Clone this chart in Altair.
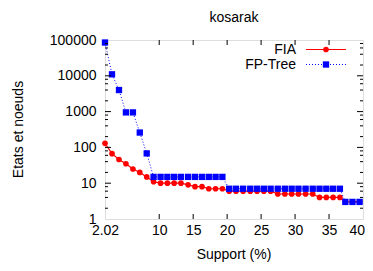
import altair as alt
import pandas as pd

support = [2.02, 3.05, 4.08, 5.1, 6.13, 7.14, 8.16, 9.17, 10.2, 11.2, 12.2, 13.2, 14.25,
           15.27, 16.3, 17.3, 18.3, 19.3, 20.3, 21.3, 22.35, 23.4, 24.4, 25.4, 26.4,
           27.45, 28.5, 29.5, 30.5, 31.55, 32.6, 33.6, 34.6, 35.6, 36.6, 37.4, 38.45, 39.5]
fia = [130, 67, 46, 35, 25, 20, 15, 11, 10, 10, 10, 10, 9, 8, 8, 7, 7, 7, 6, 6, 6, 6,
       6, 6, 6, 5, 5, 5, 5, 5, 5, 4, 4, 4, 4, 3, 3, 3]
fptree = [85000, 11000, 4000, 950, 950, 260, 68, 15, 15, 15, 15, 15, 15, 15, 15, 15,
          15, 15, 7, 7, 7, 7, 7, 7, 7, 7, 7, 7, 7, 7, 7, 7, 7, 7, 7, 3, 3, 3]
series_names = ["FIA", "FP-Tree"]
x_tick_labels = [2.02, 10, 15, 20, 25, 30, 35, 40]
x_inner_ticks = [10, 15, 20, 25, 30, 35]
y_tick_labels = [1, 10, 100, 1000, 10000, 100000]
y_inner_ticks = [10, 100, 1000, 10000]
y_minor_ticks = [2, 4, 6, 8, 20, 40, 60, 80, 200, 400, 600, 800,
                 2000, 4000, 6000, 8000, 20000, 40000, 60000, 80000]
chart_title = "kosarak"
x_title = "Support (%)"
y_title = "Etats et noeuds"

W, H = 258, 179
FONT = "Liberation Sans"
FS = 14
RED = "#ff0000"
BLUE = "#0000ff"

df_fia = pd.DataFrame({"x": support, "v": fia})
df_fp = pd.DataFrame({"x": support, "v": fptree})

xscale = alt.Scale(domain=[2.02, 40], nice=False, zero=False)
yscale = alt.Scale(type="log", domain=[1, 100000], nice=False)

xaxis = alt.Axis(values=x_tick_labels, labelExpr="format(datum.value, '.3~g')",
                 ticks=False, domain=False,
                 grid=False, title=None, labelFont=FONT, labelFontSize=FS,
                 labelColor="black", labelPadding=4, labelFlush=False,
                 labelOverlap=False,
                 labelAlign={"condition": {"test": "datum.value >= 40", "value": "right"},
                             "value": "center"},
                 labelOffset={"condition": {"test": "datum.value >= 40", "value": 1.5},
                              "value": 0})
yaxis = alt.Axis(values=y_tick_labels, format="d", ticks=False, domain=False,
                 grid=False, title=None, labelFont=FONT, labelFontSize=FS,
                 labelColor="black", labelPadding=9, labelFlush=False,
                 labelOverlap=False)

X = alt.X("x:Q", scale=xscale, axis=xaxis)
Y = alt.Y("v:Q", scale=yscale, axis=yaxis)

red_line = alt.Chart(df_fia).mark_line(color=RED, strokeWidth=1.2).encode(x=X, y=Y)
red_pts = alt.Chart(df_fia).mark_point(shape="circle", filled=True, size=32, color=RED,
                                       opacity=1).encode(x=X, y=Y)
blue_line = alt.Chart(df_fp).mark_line(color=BLUE, strokeWidth=1, strokeDash=[1, 2]).encode(x=X, y=Y)
blue_pts = alt.Chart(df_fp).mark_square(size=40, color=BLUE, opacity=1).encode(x=X, y=Y)

xt = pd.DataFrame({"x": x_inner_ticks})
yt = pd.DataFrame({"v": y_inner_ticks})
ym = pd.DataFrame({"v": y_minor_ticks})
rule = dict(color="black", strokeWidth=1)

ticks = [
    alt.Chart(xt).mark_rule(**rule).encode(x=X, y=alt.value(H), y2=alt.value(H - 5)),
    alt.Chart(xt).mark_rule(**rule).encode(x=X, y=alt.value(0), y2=alt.value(5)),
    alt.Chart(yt).mark_rule(**rule).encode(y=Y, x=alt.value(0), x2=alt.value(6)),
    alt.Chart(yt).mark_rule(**rule).encode(y=Y, x=alt.value(W), x2=alt.value(W - 6)),
    alt.Chart(ym).mark_rule(**rule).encode(y=Y, x=alt.value(0), x2=alt.value(3)),
    alt.Chart(ym).mark_rule(**rule).encode(y=Y, x=alt.value(W), x2=alt.value(W - 3)),
]

def text_layer(txt, **kw):
    return alt.Chart(pd.DataFrame({"t": [txt]})).mark_text(
        font=FONT, fontSize=FS, color="black", **kw)

title_l = text_layer(chart_title, baseline="alphabetic", align="center").encode(
    text="t:N", x=alt.value(W / 2), y=alt.value(-18))
xtitle_l = text_layer(x_title, baseline="alphabetic", align="center").encode(
    text="t:N", x=alt.value(W / 2), y=alt.value(H + 40))
ytitle_l = text_layer(y_title, baseline="middle", align="center", angle=270).encode(
    text="t:N", x=alt.value(-86), y=alt.value(H / 2))

leg = []
for i, (name, col) in enumerate(zip(series_names, [RED, BLUE])):
    yy = 9.5 + 15 * i
    d = pd.DataFrame({"t": [name]})
    leg.append(alt.Chart(d).mark_text(font=FONT, fontSize=FS, align="right",
                                      baseline="middle", color="black").encode(
        text="t:N", x=alt.value(191), y=alt.value(yy)))
    if i == 0:
        leg.append(alt.Chart(d).mark_rule(color=col, strokeWidth=1.2).encode(
            x=alt.value(201), x2=alt.value(241), y=alt.value(yy)))
        leg.append(alt.Chart(d).mark_point(shape="circle", filled=True, size=32, color=col,
                                           opacity=1).encode(x=alt.value(221), y=alt.value(yy)))
    else:
        leg.append(alt.Chart(d).mark_rule(color=col, strokeWidth=1, strokeDash=[1, 2]).encode(
            x=alt.value(201), x2=alt.value(241), y=alt.value(yy)))
        leg.append(alt.Chart(d).mark_square(size=40, color=col, opacity=1).encode(
            x=alt.value(221), y=alt.value(yy)))

chart = alt.layer(
    red_line, red_pts, blue_line, blue_pts, *ticks, title_l, xtitle_l, ytitle_l, *leg
).properties(
    width=W, height=H,
    autosize=alt.AutoSizeParams(type="none"),
    padding={"left": 97, "top": 32, "right": 2, "bottom": 44},
).configure_view(stroke="black", strokeWidth=1).configure(background="white")

chart.save("out.html", embed_options={"renderer": "svg", "actions": False})
